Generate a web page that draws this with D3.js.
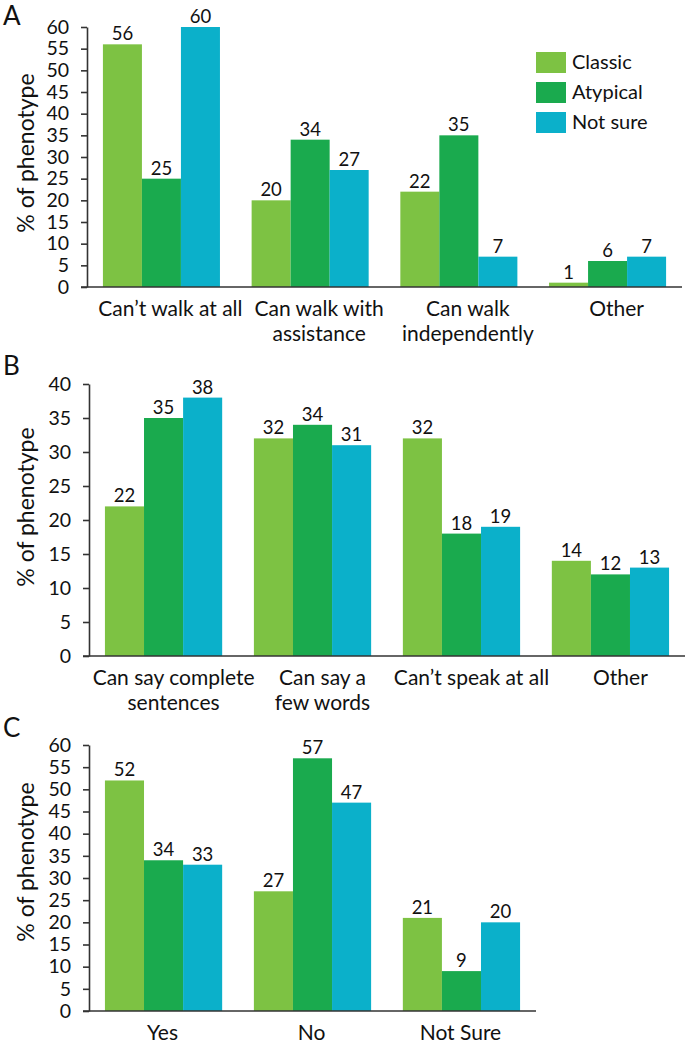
<!DOCTYPE html>
<html>
<head>
  <meta charset="utf-8">
  <script src="https://d3js.org/d3.v7.min.js"></script>
  <style>
    body { margin: 0; background: #fff; }
    text { font-family: Lato, "Noto Sans", sans-serif; fill: #111; }
    .axis path, .axis line { stroke: #333; stroke-width: 1.6px; }
    .axis text { font-size: 19.5px; fill: #111; }
    .value { font-size: 18.5px; text-anchor: middle; }
    .cat { font-size: 21px; text-anchor: middle; }
    .ytitle { font-size: 23px; text-anchor: middle; }
    .letter { font-size: 26px; }
    .legend text { font-size: 20px; }
  </style>
</head>
<body>
  <svg id="chart" width="685" height="1050"></svg>

  <script>
    // series shared by all three panels
    const series = ["Classic", "Atypical", "Not sure"];
    const colors = ["#7dc243", "#1aaa4e", "#0bb0ca"];

    // A: walking
    const walkCats = [["Can\u2019t walk at all"], ["Can walk with", "assistance"], ["Can walk", "independently"], ["Other"]];
    const walkClassic = [56, 20, 22, 1];
    const walkAtypical = [25, 34, 35, 6];
    const walkNotSure = [60, 27, 7, 7];

    // B: speech
    const speakCats = [["Can say complete", "sentences"], ["Can say a", "few words"], ["Can\u2019t speak at all"], ["Other"]];
    const speakClassic = [22, 32, 32, 14];
    const speakAtypical = [35, 34, 18, 12];
    const speakNotSure = [38, 31, 19, 13];

    // C: yes / no
    const ynCats = [["Yes"], ["No"], ["Not Sure"]];
    const ynClassic = [52, 27, 21];
    const ynAtypical = [34, 57, 9];
    const ynNotSure = [33, 47, 20];

    const svg = d3.select("#chart");

    const panels = [
      { letter: "A", letterY: 25, cats: walkCats, vals: [walkClassic, walkAtypical, walkNotSure],
        yMax: 60, top: 27, bottom: 287, left: 87, right: 682, titleY: 153, labelDx: 9, legend: true },
      { letter: "B", letterY: 375, cats: speakCats, vals: [speakClassic, speakAtypical, speakNotSure],
        yMax: 40, top: 384, bottom: 656, left: 89, right: 685, titleY: 507, labelDx: 10, legend: false },
      { letter: "C", letterY: 737, cats: ynCats, vals: [ynClassic, ynAtypical, ynNotSure],
        yMax: 60, top: 745, bottom: 1011, left: 89, right: 536, titleY: 862, labelDx: -1, legend: false }
    ];

    panels.forEach(p => {
      const g = svg.append("g");
      const idx = d3.range(p.cats.length);

      const x = d3.scaleBand().domain(idx).range([p.left, p.right])
        .paddingInner(0.213).paddingOuter(0.107);
      const xs = d3.scaleBand().domain(d3.range(series.length)).range([0, x.bandwidth()]);
      const y = d3.scaleLinear().domain([0, p.yMax]).range([p.bottom, p.top]);

      // bars
      p.vals.forEach((vals, s) => {
        g.selectAll(null).data(vals).join("rect")
          .attr("x", (d, i) => x(i) + xs(s))
          .attr("y", d => y(d))
          .attr("width", xs.bandwidth())
          .attr("height", d => y(0) - y(d))
          .attr("fill", colors[s]);

        g.selectAll(null).data(vals).join("text")
          .attr("class", "value")
          .attr("x", (d, i) => x(i) + xs(s) + xs.bandwidth() / 2)
          .attr("y", d => y(d) - 4)
          .text(d => d);
      });

      // y axis
      g.append("g").attr("class", "axis")
        .attr("transform", `translate(${p.left},0)`)
        .call(d3.axisLeft(y).tickValues(d3.range(0, p.yMax + 1, 5)).tickSize(6).tickSizeOuter(0).tickPadding(12));

      // baseline
      g.append("line").attr("class", "axis")
        .attr("x1", p.left - 6).attr("x2", p.right)
        .attr("y1", y(0)).attr("y2", y(0))
        .attr("stroke", "#333").attr("stroke-width", 1.6);

      // category labels
      p.cats.forEach((lines, i) => {
        const t = g.append("text").attr("class", "cat")
          .attr("x", x(i) + x.bandwidth() / 2 + p.labelDx)
          .attr("y", y(0) + 29);
        lines.forEach((ln, j) => {
          t.append("tspan")
            .attr("x", x(i) + x.bandwidth() / 2 + p.labelDx)
            .attr("dy", j === 0 ? 0 : 24.5)
            .text(ln);
        });
      });

      // y title
      g.append("text").attr("class", "ytitle")
        .attr("transform", `translate(34,${p.titleY}) rotate(-90)`)
        .text("% of phenotype");

      // panel letter
      g.append("text").attr("class", "letter")
        .attr("x", 3).attr("y", p.letterY)
        .text(p.letter);

      if (p.legend) {
        const lg = g.append("g").attr("class", "legend");
        series.forEach((name, s) => {
          lg.append("rect")
            .attr("x", 536).attr("y", 52 + s * 30)
            .attr("width", 30).attr("height", 21)
            .attr("fill", colors[s]);
          lg.append("text")
            .attr("x", 572).attr("y", 52 + s * 30 + 17)
            .text(name);
        });
      }
    });
  </script>
</body>
</html>
